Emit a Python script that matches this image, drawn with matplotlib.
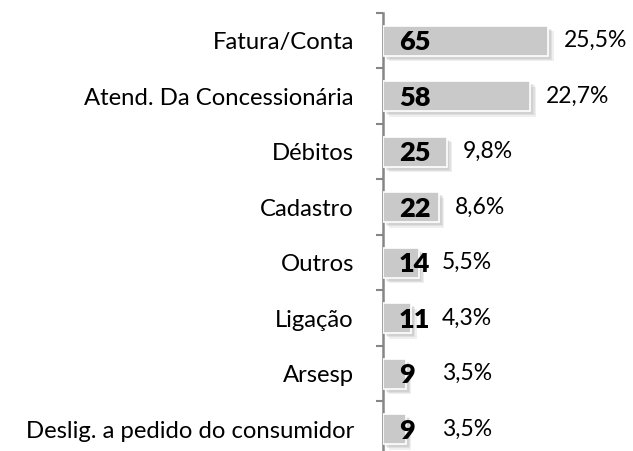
import matplotlib
matplotlib.use("Agg")
import matplotlib.pyplot as plt
import matplotlib.patheffects as pe

categories = ["Fatura/Conta", "Atend. Da Concessionária", "Débitos", "Cadastro",
              "Outros", "Ligação", "Arsesp", "Deslig. a pedido do consumidor"]
values = [65, 58, 25, 22, 14, 11, 9, 9]
percents = ["25,5%", "22,7%", "9,8%", "8,6%", "5,5%", "4,3%", "3,5%", "3,5%"]

plt.rcParams['font.family'] = ['Lato', 'DejaVu Sans']

fig = plt.figure(figsize=(6.33, 4.51), dpi=100)
ax = fig.add_axes([383/633, 1 - 457/451, 250/633, 444/451])

n = len(categories)
ypos = list(range(n))
bars = ax.barh(ypos, values, height=0.54, color="#c9c9c9", edgecolor="white",
               linewidth=1.2, zorder=3)
for b in bars:
    b.set_path_effects([
        pe.SimplePatchShadow(offset=(4, -4), shadow_rgbFace="#aaaaaa", alpha=0.18),
        pe.SimplePatchShadow(offset=(3, -3), shadow_rgbFace="#aaaaaa", alpha=0.22),
        pe.SimplePatchShadow(offset=(2, -2), shadow_rgbFace="#aaaaaa", alpha=0.25),
        pe.Normal()])

for y, v, p in zip(ypos, values, percents):
    ax.text(6.3, y + 0.03, str(v), ha="left", va="center", fontsize=19.5, fontweight="heavy",
            color="black", zorder=5)
    ax.text(max(v + 6.3, 23.3), y, p, ha="left", va="center", fontsize=16.5,
            color="black", zorder=5)

ax.set_ylim(n - 0.5, -0.5)
ax.set_xlim(0, 98.4)
ax.set_yticks(ypos)
ax.set_yticklabels(categories, fontsize=17.2)
ax.tick_params(axis="y", length=0, pad=21)
ax.set_yticks([i - 0.5 for i in range(n + 1)], minor=True)
ax.tick_params(axis="y", which="minor", length=5, width=1.5, color="#868686", direction="out")
ax.set_xticks([])
for s in ["top", "right", "bottom"]:
    ax.spines[s].set_visible(False)
ax.spines["left"].set_color("#868686")
ax.spines["left"].set_linewidth(1.8)

fig.savefig("out.png", dpi=100)
